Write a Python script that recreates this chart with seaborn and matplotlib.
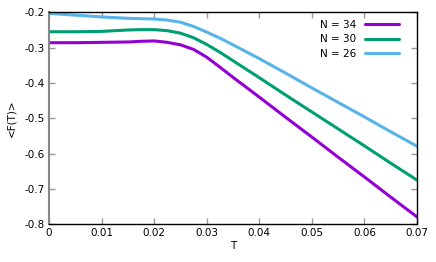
import numpy as np
import pandas as pd
import seaborn as sns
import matplotlib
import matplotlib.pyplot as plt
from matplotlib.ticker import FuncFormatter

# temperature grid and <F(T)>
T = [0, 0.005, 0.01, 0.015, 0.0175, 0.02, 0.0225, 0.025, 0.0275, 0.03,
     0.0325, 0.035, 0.04, 0.045, 0.05, 0.055, 0.06, 0.065, 0.07]

f_n34 = [-0.286, -0.286, -0.285, -0.284, -0.282, -0.281, -0.285, -0.292, -0.305, -0.327,
         -0.355, -0.384, -0.440, -0.497, -0.553, -0.610, -0.666, -0.723, -0.779]
f_n30 = [-0.255, -0.255, -0.254, -0.250, -0.249, -0.249, -0.252, -0.259, -0.272, -0.291,
         -0.313, -0.337, -0.385, -0.434, -0.482, -0.530, -0.578, -0.627, -0.675]
f_n26 = [-0.203, -0.208, -0.213, -0.217, -0.218, -0.219, -0.222, -0.228, -0.240, -0.256,
         -0.273, -0.292, -0.331, -0.372, -0.414, -0.455, -0.496, -0.538, -0.579]

labels = ['N = 34', 'N = 30', 'N = 26']
colors = ['#9400d3', '#009e73', '#56b4e9']

df = pd.concat([
    pd.DataFrame({'T': T, 'F': f_n34, 'N': labels[0]}),
    pd.DataFrame({'T': T, 'F': f_n30, 'N': labels[1]}),
    pd.DataFrame({'T': T, 'F': f_n26, 'N': labels[2]}),
])

sns.set_style('ticks')
plt.rcParams['font.family'] = ['DejaVu Sans']
plt.rcParams['axes.unicode_minus'] = False
plt.rcParams['text.color'] = 'black'
plt.rcParams['xtick.labelcolor'] = 'black'
plt.rcParams['ytick.labelcolor'] = 'black'

fig = plt.figure(figsize=(4.36, 2.62), dpi=100)
ax = fig.add_axes([0.1124, 0.1439, 0.8440, 0.8091])

sns.lineplot(data=df, x='T', y='F', hue='N', hue_order=labels,
             palette=colors, linewidth=2.2, ax=ax, sort=True)

ax.set_xlim(0, 0.07)
ax.set_ylim(-0.8, -0.2)
ax.set_xticks(np.arange(0, 0.0701, 0.01))
ax.set_yticks(np.arange(-0.8, -0.199, 0.1))
ax.xaxis.set_major_formatter(FuncFormatter(lambda v, p: '%g' % round(v, 3)))
ax.yaxis.set_major_formatter(FuncFormatter(lambda v, p: '%g' % round(v, 3)))
ax.tick_params(direction='in', length=4, width=1, color='#999999',
               labelsize=7.5, labelcolor='black', top=True, right=True, pad=3)

for s in ax.spines.values():
    s.set_linewidth(1)
    s.set_color('black')
ax.spines['left'].set_color('#888888')
ax.spines['left'].set_linewidth(1.5)

ax.set_xlabel('T', fontsize=7.5, labelpad=2, color='black')
ax.set_ylabel('<F(T)>', fontsize=7.5, labelpad=6, color='black')

ax.legend(loc='upper right', frameon=False, markerfirst=False, fontsize=7.5,
          handlelength=3.2, handletextpad=0.9, labelspacing=0.45,
          borderaxespad=0.3, bbox_to_anchor=(0.97, 1.0), title=None)

fig.savefig('out.png', dpi=100)
